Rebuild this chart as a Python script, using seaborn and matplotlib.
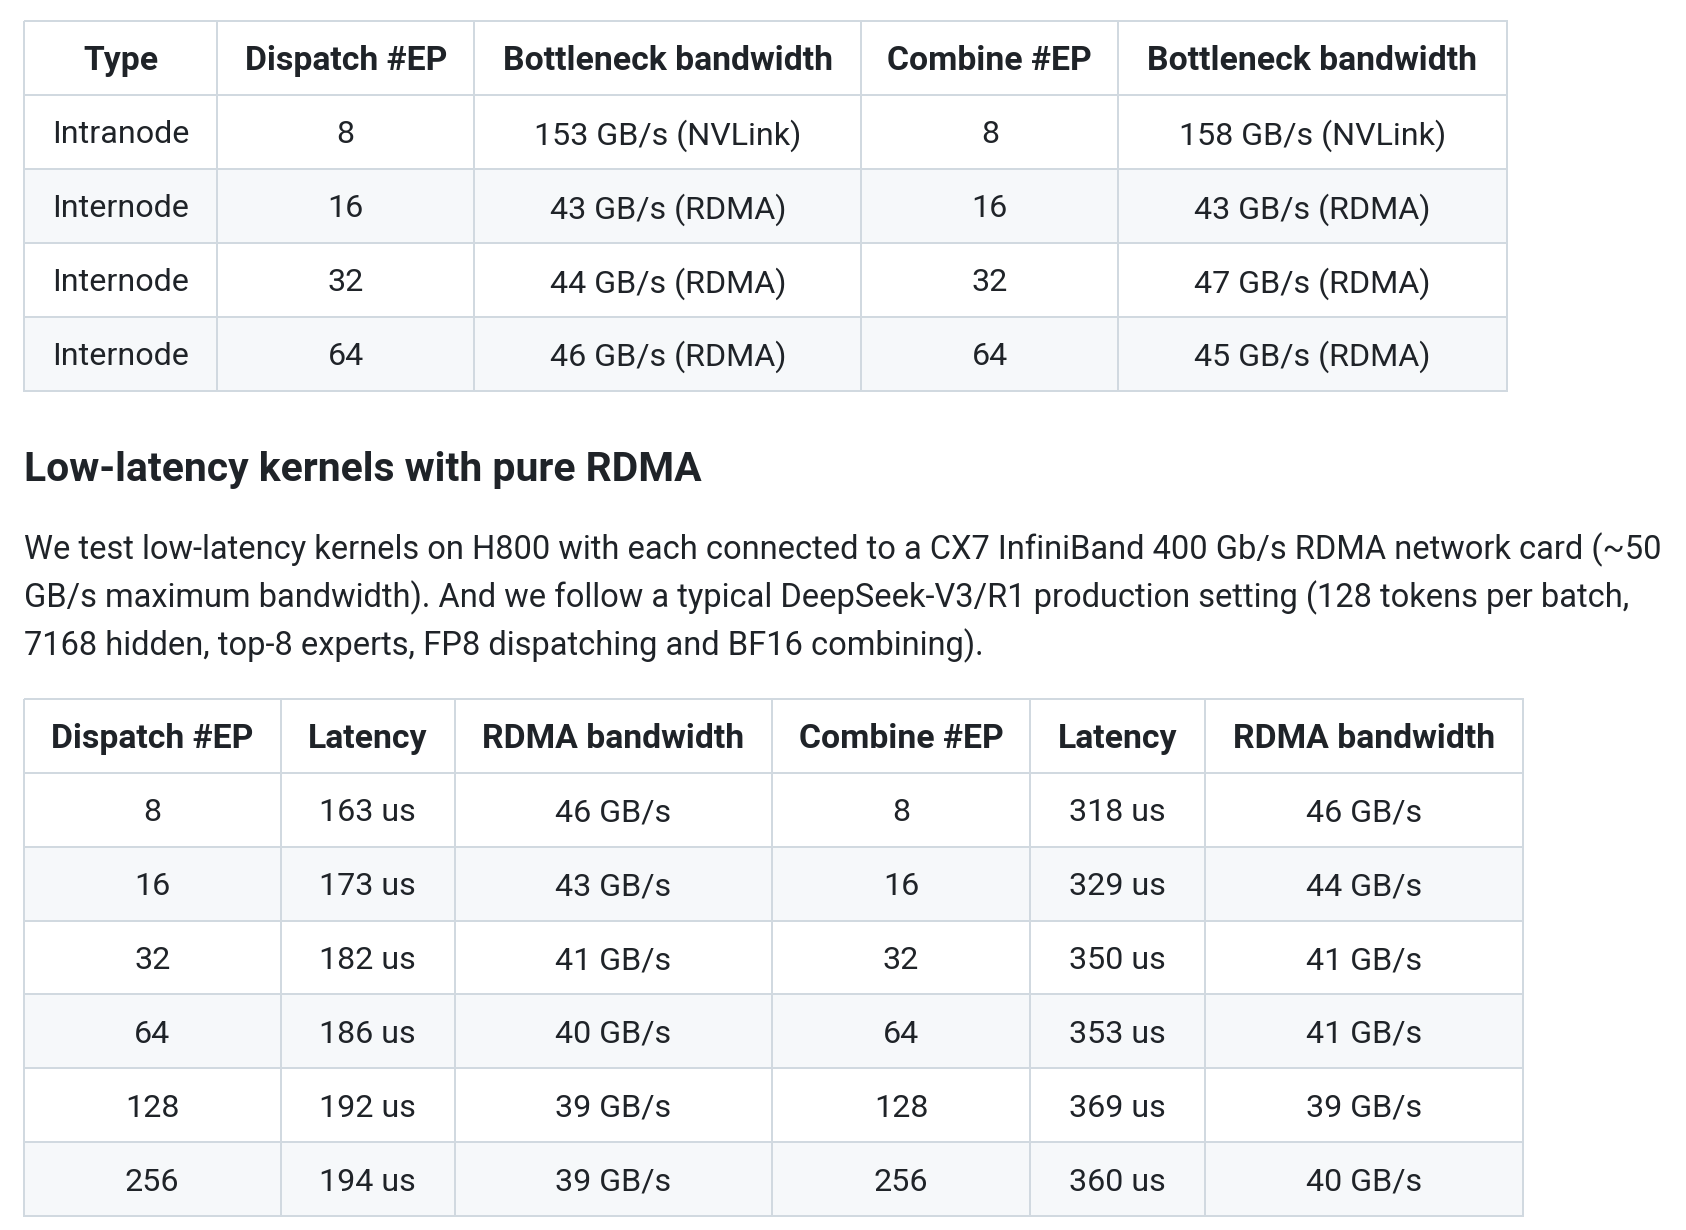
import numpy as np
import matplotlib
matplotlib.use("Agg")
import matplotlib.pyplot as plt
from matplotlib.colors import ListedColormap
import seaborn as sns

# ---------------- data ----------------
t1_headers = ["Type", "Dispatch #EP", "Bottleneck bandwidth", "Combine #EP", "Bottleneck bandwidth"]
t1_types = ["Intranode", "Internode", "Internode", "Internode"]
t1_dispatch_ep = [8, 16, 32, 64]
t1_dispatch_bw = [153, 43, 44, 46]
t1_dispatch_link = ["NVLink", "RDMA", "RDMA", "RDMA"]
t1_combine_ep = [8, 16, 32, 64]
t1_combine_bw = [158, 43, 47, 45]
t1_combine_link = ["NVLink", "RDMA", "RDMA", "RDMA"]

heading = "Low-latency kernels with pure RDMA"
paragraph_lines = [
    "We test low-latency kernels on H800 with each connected to a CX7 InfiniBand 400 Gb/s RDMA network card (~50",
    "GB/s maximum bandwidth). And we follow a typical DeepSeek-V3/R1 production setting (128 tokens per batch,",
    "7168 hidden, top-8 experts, FP8 dispatching and BF16 combining).",
]

t2_headers = ["Dispatch #EP", "Latency", "RDMA bandwidth", "Combine #EP", "Latency", "RDMA bandwidth"]
t2_dispatch_ep = [8, 16, 32, 64, 128, 256]
t2_dispatch_lat = [163, 173, 182, 186, 192, 194]
t2_dispatch_bw = [46, 43, 41, 40, 39, 39]
t2_combine_ep = [8, 16, 32, 64, 128, 256]
t2_combine_lat = [318, 329, 350, 353, 369, 360]
t2_combine_bw = [46, 44, 41, 41, 39, 40]

# ---------------- style ----------------
W, H, DPI = 1686, 1230, 100
sns.set_theme(style="white")
plt.rcParams['font.family'] = ['Roboto', 'DejaVu Sans']

TEXT = "#1f2328"
BORDER = "#d1d9e0"
STRIPE = "#f6f8fa"
FS = 23.2        # cell text
FS_HDR = 24.3    # bold header text
FS_PARA = 23.5   # paragraph
FS_HEAD = 29.4   # heading

fig = plt.figure(figsize=(W / DPI, H / DPI), dpi=DPI)
fig.patch.set_facecolor("white")


def px_axes(x0, y0, x1, y1):
    return fig.add_axes([x0 / W, 1 - y1 / H, (x1 - x0) / W, (y1 - y0) / H])


def draw_table(col_edges, top, bottom, headers, columns):
    n = len(columns[0])
    stripe = np.array([0] + [i % 2 for i in range(n)], dtype=float).reshape(-1, 1)
    cmap = ListedColormap(["#ffffff", STRIPE])
    for j, (hdr, col) in enumerate(zip(headers, columns)):
        ax = px_axes(col_edges[j], top, col_edges[j + 1], bottom)
        annot = np.array([hdr] + [str(v) for v in col], dtype=object).reshape(-1, 1)
        sns.heatmap(stripe, ax=ax, cmap=cmap, vmin=0, vmax=1, cbar=False,
                    annot=annot, fmt="", linewidths=1.4, linecolor=BORDER,
                    annot_kws=dict(color=TEXT, fontsize=FS),
                    xticklabels=False, yticklabels=False)
        ax.collections[0].set_clip_on(False)
        for k, t in enumerate(ax.texts):
            t.set_va("center_baseline")
            if k == 0:
                t.set_fontweight("bold")
                t.set_fontsize(FS_HDR)


# table 1
t1_cols = [
    t1_types,
    t1_dispatch_ep,
    [f"{v} GB/s ({l})" for v, l in zip(t1_dispatch_bw, t1_dispatch_link)],
    t1_combine_ep,
    [f"{v} GB/s ({l})" for v, l in zip(t1_combine_bw, t1_combine_link)],
]
draw_table([23.7, 217.2, 474.2, 861.3, 1118.3, 1506.5], 21.0, 390.5, t1_headers, t1_cols)

# heading and paragraph
fig.text(23.7 / W, 1 - 465.6 / H, heading, fontsize=FS_HEAD, fontweight="bold",
         color=TEXT, ha="left", va="center_baseline")
for i, line in enumerate(paragraph_lines):
    y = 546.3 + i * 47.9
    fig.text(23.7 / W, 1 - y / H, line, fontsize=FS_PARA, color=TEXT, ha="left", va="center_baseline")

# table 2
t2_cols = [
    t2_dispatch_ep,
    [f"{v} us" for v in t2_dispatch_lat],
    [f"{v} GB/s" for v in t2_dispatch_bw],
    t2_combine_ep,
    [f"{v} us" for v in t2_combine_lat],
    [f"{v} GB/s" for v in t2_combine_bw],
]
draw_table([23.7, 280.7, 454.9, 772.1, 1030.1, 1205.4, 1522.6], 699.0, 1216.0, t2_headers, t2_cols)

fig.savefig("out.png", dpi=DPI, facecolor="white")
